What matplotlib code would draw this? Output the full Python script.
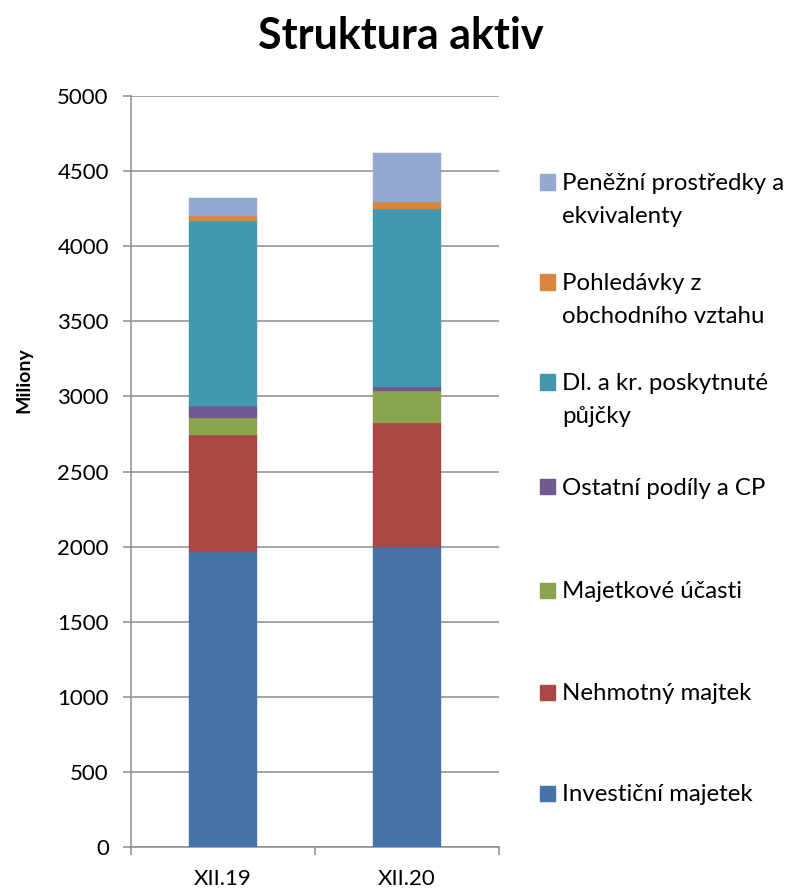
import matplotlib
matplotlib.use("Agg")
import matplotlib.pyplot as plt
from matplotlib.patches import Rectangle

plt.rcParams['font.family'] = ['Lato', 'DejaVu Sans']

categories = ["XII.19", "XII.20"]
series_names = [
    "Investiční majetek",
    "Nehmotný majtek",
    "Majetkové účasti",
    "Ostatní podíly a CP",
    "Dl. a kr. poskytnuté\npůjčky",
    "Pohledávky z\nobchodního vztahu",
    "Peněžní prostředky a\nekvivalenty",
]
investicni = [1962, 1995]
nehmotny = [781, 830]
majetkove = [111, 211]
ostatni = [84, 25]
pujcky = [1232, 1187]
pohledavky = [28, 44]
penezni = [121, 330]
series_values = [investicni, nehmotny, majetkove, ostatni, pujcky, pohledavky, penezni]
colors = ["#4572A7", "#AA4643", "#89A54E", "#71588F", "#4198AF", "#DB843D", "#93A9CF"]
y_ticks = [0, 500, 1000, 1500, 2000, 2500, 3000, 3500, 4000, 4500, 5000]

W, H = 803, 890
fig = plt.figure(figsize=(W / 100, H / 100), dpi=100)
ax = fig.add_axes([131 / W, 1 - 847 / H, 368 / W, 751 / H])

x = list(range(len(categories)))
bottom = [0] * len(categories)
for vals, col in zip(series_values, colors):
    ax.bar(x, vals, width=0.37, bottom=bottom, color=col, zorder=3,
           edgecolor=col, linewidth=0.3)
    bottom = [b + v for b, v in zip(bottom, vals)]

ax.set_xlim(-0.5, 1.5)
ax.set_ylim(0, 5000)
ax.set_yticks(y_ticks)
ax.set_yticklabels([str(t) for t in y_ticks], fontsize=16)
ax.yaxis.grid(True, color="#8c8c8c", linewidth=1.1, zorder=0)
ax.set_axisbelow(True)

ax.set_xticks(x)
ax.set_xticklabels(categories, fontsize=16)
ax.set_xticks([-0.5, 0.5, 1.5], minor=True)
ax.tick_params(axis='x', which='major', length=0, pad=16)
ax.tick_params(axis='x', which='minor', length=6, color="#8c8c8c", width=1.1)
ax.tick_params(axis='y', length=6, color="#8c8c8c", width=1.1, pad=10)

for s in ("top", "right"):
    ax.spines[s].set_visible(False)
for s in ("left", "bottom"):
    ax.spines[s].set_color("#8c8c8c")
    ax.spines[s].set_linewidth(1.1)

fig.text(401 / W, 1 - 36 / H, "Struktura aktiv", fontsize=31, fontweight="bold",
         ha="center", va="center")
fig.text(24 / W, 1 - 380 / H, "Miliony", fontsize=14, fontweight="bold",
         rotation=90, ha="center", va="center")

# Legend: top entry first, markers aligned with the first text line
legend_y = [793, 692, 590, 487, 382, 282, 182]
line_step = 33
for name, col, yc in zip(series_names, colors, legend_y):
    fig.patches.append(Rectangle((540 / W, 1 - (yc + 7.5) / H), 15 / W, 15 / H,
                                 transform=fig.transFigure, color=col, figure=fig))
    for i, line in enumerate(name.split("\n")):
        fig.text(562 / W, 1 - (yc + 8 + i * line_step) / H, line, fontsize=17.3,
                 ha="left", va="baseline")

fig.savefig("out.png", dpi=100)
